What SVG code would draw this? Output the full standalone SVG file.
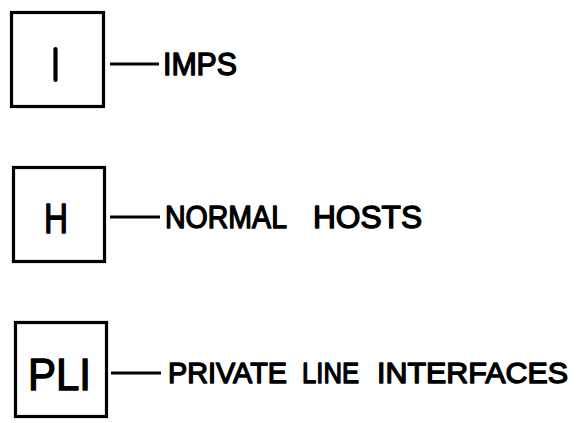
<svg xmlns="http://www.w3.org/2000/svg" width="580" height="423" viewBox="0 0 580 423">
<style>
.box{fill:#fff;stroke:#000;stroke-width:3.2}
.ln{stroke:#000;stroke-width:3;fill:none}
.t{font-family:"Liberation Sans",Arial,sans-serif;fill:#000;stroke:#000;stroke-width:1.4;stroke-linejoin:round}
</style>
<rect width="580" height="423" fill="#fff"/>
<g id="node-imps">
<rect class="box" x="11.5" y="12.5" width="92" height="94"/>
<line x1="55.5" y1="49" x2="55.5" y2="80" stroke="#000" stroke-width="4.2" stroke-linecap="round"/>
</g>
<g id="node-hosts">
<rect class="box" x="13.5" y="167.5" width="91" height="94"/>
<text class="t" x="44" y="233" font-size="42" textLength="24" lengthAdjust="spacingAndGlyphs">H</text>
</g>
<g id="node-pli">
<rect class="box" x="15.5" y="322.5" width="91" height="94"/>
<text class="t" x="28" y="390" font-size="44" textLength="63" lengthAdjust="spacingAndGlyphs">PLI</text>
</g>
<g id="connectors">
<line class="ln" x1="110" y1="64" x2="159" y2="64"/>
<line class="ln" x1="110" y1="217" x2="160" y2="217"/>
<line class="ln" x1="111" y1="373" x2="161" y2="373"/>
</g>
<g id="labels">
<text class="t" x="163" y="75" font-size="31" textLength="74" lengthAdjust="spacingAndGlyphs">IMPS</text>
<text class="t" x="165" y="228" font-size="32" textLength="122" lengthAdjust="spacingAndGlyphs">NORMAL</text>
<text class="t" x="313" y="228" font-size="32" textLength="109" lengthAdjust="spacingAndGlyphs">HOSTS</text>
<text class="t" x="168" y="383" font-size="30" textLength="119" lengthAdjust="spacingAndGlyphs">PRIVATE</text>
<text class="t" x="302" y="383" font-size="30" textLength="57" lengthAdjust="spacingAndGlyphs">LINE</text>
<text class="t" x="377" y="383" font-size="30" textLength="191" lengthAdjust="spacingAndGlyphs">INTERFACES</text>
</g>
</svg>
